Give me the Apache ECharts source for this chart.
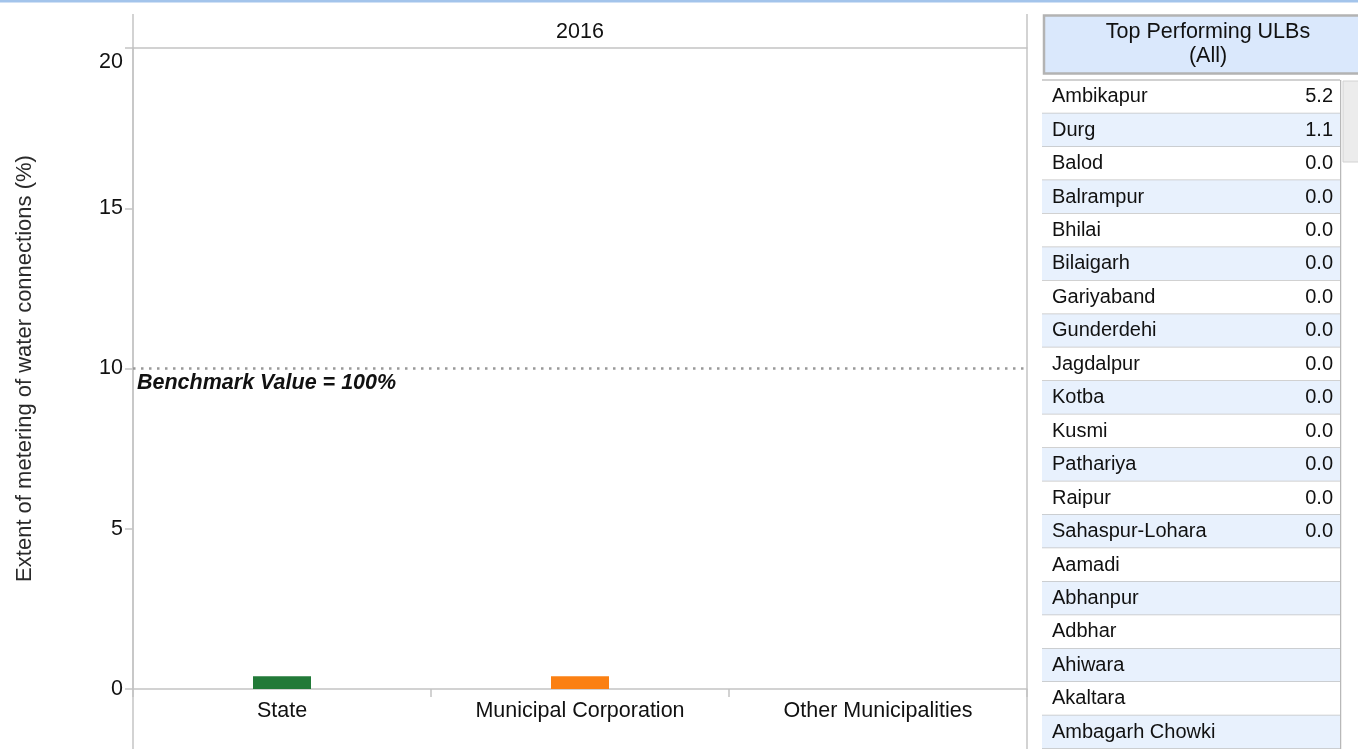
<!DOCTYPE html>
<html>
<head>
<meta charset="utf-8">
<script src="https://cdn.jsdelivr.net/npm/echarts@6/dist/echarts.min.js"></script>
<style>
    html, body { margin: 0; padding: 0; background: #fff; overflow: hidden; }
    #chart { width: 1358px; height: 749px; }
</style>
</head>
<body>
<div id="chart"></div>
<script>
// bar chart data
const categories = ['State', 'Municipal Corporation', 'Other Municipalities'];
const meteringValues = [0.4, 0.4, null];
const yearLabel = '2016';
const benchmarkValue = 10;
const benchmarkText = 'Benchmark Value = 100%';
const yTicks = [0, 5, 10, 15, 20];

// top performing ULBs table
const ulbNames = ['Ambikapur', 'Durg', 'Balod', 'Balrampur', 'Bhilai', 'Bilaigarh', 'Gariyaband',
    'Gunderdehi', 'Jagdalpur', 'Kotba', 'Kusmi', 'Pathariya', 'Raipur', 'Sahaspur-Lohara',
    'Aamadi', 'Abhanpur', 'Adbhar', 'Ahiwara', 'Akaltara', 'Ambagarh Chowki'];
const ulbValues = [5.2, 1.1, 0.0, 0.0, 0.0, 0.0, 0.0, 0.0, 0.0, 0.0, 0.0, 0.0, 0.0, 0.0,
    null, null, null, null, null, null];

const barColors = ['#227a38', '#fb8013', '#4e79a7'];
const FONT = '"Liberation Sans", Arial, sans-serif';
const AXIS_GREY = '#c4c4c4';
const ROW_H = 33.75;
const FS = 21.5;

let chart = echarts.init(document.getElementById('chart'));

let option = {
    animation: false,
    textStyle: { fontFamily: FONT },
    grid: [
        { left: 133, right: 331, top: 48, bottom: 60 },
        { left: 1042, width: 298, top: 80, height: ROW_H * ulbNames.length }
    ],
    xAxis: [
        {
            gridIndex: 0,
            type: 'category',
            data: categories,
            axisLine: { lineStyle: { color: AXIS_GREY, width: 1.5 } },
            axisTick: { show: true, length: 8, lineStyle: { color: AXIS_GREY, width: 1.5 } },
            axisLabel: { color: '#111', fontSize: FS, fontFamily: FONT, margin: 11 }
        },
        {
            // header row with the year
            gridIndex: 0,
            type: 'category',
            position: 'top',
            data: categories,
            axisLine: { lineStyle: { color: AXIS_GREY, width: 1.5 } },
            axisTick: { show: false },
            axisLabel: { show: false },
            name: yearLabel,
            nameLocation: 'middle',
            nameGap: 5,
            nameTextStyle: { color: '#111', fontSize: FS, fontFamily: FONT }
        },
        { gridIndex: 1, type: 'value', min: 0, max: 1, show: false }
    ],
    yAxis: [
        {
            gridIndex: 0,
            type: 'value',
            min: yTicks[0],
            max: yTicks[yTicks.length - 1],
            interval: 5,
            name: 'Extent of metering of water connections (%)',
            nameLocation: 'middle',
            nameGap: 97,
            nameTextStyle: { color: '#2a2a2a', fontSize: 22, fontFamily: FONT },
            axisLine: { show: true, lineStyle: { color: AXIS_GREY, width: 1.5 } },
            axisTick: { show: true, length: 8, lineStyle: { color: AXIS_GREY, width: 1.5 } },
            splitLine: { show: false },
            axisLabel: {
                color: '#111',
                fontSize: FS,
                fontFamily: FONT,
                margin: 10,
                formatter: v => v === yTicks[yTicks.length - 1] ? '{top|' + v + '}' : String(v),
                rich: {
                    top: { fontSize: FS, fontFamily: FONT, color: '#111', padding: [28, 0, 0, 0] }
                }
            }
        },
        {
            gridIndex: 1,
            type: 'category',
            data: ulbNames,
            inverse: true,
            show: false
        }
    ],
    series: [
        {
            type: 'bar',
            xAxisIndex: 0,
            yAxisIndex: 0,
            data: meteringValues,
            barWidth: 58,
            itemStyle: { color: p => barColors[p.dataIndex] },
            markLine: {
                silent: true,
                symbol: ['none', 'none'],
                lineStyle: { color: '#999999', width: 2.5, type: [2.5, 5.5] },
                label: {
                    position: 'insideStartBottom',
                    formatter: benchmarkText,
                    color: '#111',
                    fontSize: FS,
                    fontStyle: 'italic',
                    fontWeight: 'bold',
                    fontFamily: FONT,
                    distance: 4
                },
                data: [{ yAxis: benchmarkValue }]
            }
        },
        {
            type: 'custom',
            xAxisIndex: 2,
            yAxisIndex: 1,
            encode: { x: 0, y: 1 },
            data: ulbNames.map((n, i) => [0, i, ulbValues[i]]),
            renderItem: function (params, api) {
                const i = api.value(1);
                const c = api.coord([0, i]);
                const s = api.size([1, 1]);
                const w = s[0], h = s[1];
                const top = c[1] - h / 2;
                const v = ulbValues[i];
                const children = [
                    {
                        type: 'rect',
                        shape: { x: c[0], y: top, width: w, height: h },
                        style: { fill: i % 2 ? '#e8f1fd' : '#ffffff' }
                    },
                    {
                        type: 'line',
                        shape: { x1: c[0], y1: top + h, x2: c[0] + w, y2: top + h },
                        style: { stroke: '#c2c2c2', lineWidth: 1.5 }
                    },
                    {
                        type: 'text',
                        style: {
                            x: c[0] + 10, y: c[1], text: ulbNames[i],
                            fill: '#111', font: '20px ' + FONT, verticalAlign: 'middle', align: 'left'
                        }
                    }
                ];
                if (i === 0) {
                    children.push({
                        type: 'line',
                        shape: { x1: c[0], y1: top, x2: c[0] + w, y2: top },
                        style: { stroke: '#c2c2c2', lineWidth: 1.5 }
                    });
                }
                if (v !== null) {
                    children.push({
                        type: 'text',
                        style: {
                            x: c[0] + w - 7, y: c[1], text: v.toFixed(1),
                            fill: '#111', font: '20px ' + FONT, verticalAlign: 'middle', align: 'right'
                        }
                    });
                }
                return { type: 'group', children: children };
            }
        }
    ],
    graphic: [
        // top accent line
        { type: 'rect', left: 0, top: 0, shape: { width: 1358, height: 2.5 }, style: { fill: '#a3c4eb' }, silent: true },
        // pane frame continuing above/below the plot
        { type: 'line', shape: { x1: 133, y1: 14, x2: 133, y2: 749 }, style: { stroke: AXIS_GREY, lineWidth: 1.5 }, silent: true },
        { type: 'line', shape: { x1: 1027, y1: 14, x2: 1027, y2: 749 }, style: { stroke: AXIS_GREY, lineWidth: 1.5 }, silent: true },
        // table header
        {
            type: 'rect', shape: { x: 1044, y: 15.5, width: 330, height: 58 },
            style: { fill: '#dae8fc', stroke: '#b3b3b3', lineWidth: 2.5 }, silent: true
        },
        {
            type: 'text', x: 1208, y: 44,
            style: {
                text: 'Top Performing ULBs\n(All)', font: FS + 'px ' + FONT, fill: '#111',
                align: 'center', verticalAlign: 'middle', lineHeight: 24
            },
            silent: true
        },
        // scrollbar
        { type: 'line', shape: { x1: 1340.5, y1: 80, x2: 1340.5, y2: 749 }, style: { stroke: '#b8b8b8', lineWidth: 1.5 }, silent: true },
        {
            type: 'rect', shape: { x: 1343, y: 81, width: 20, height: 81 },
            style: { fill: '#ececec', stroke: '#d2d2d2', lineWidth: 1 }, silent: true
        }
    ]
};

chart.setOption(option);
</script>
</body>
</html>
